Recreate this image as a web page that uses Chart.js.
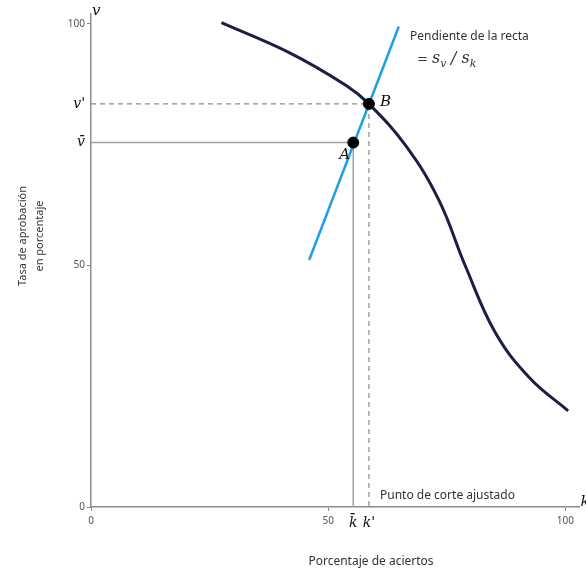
<!DOCTYPE html>
<html lang="es">
<head>
    <meta charset="UTF-8">
    <title>Punto de corte ajustado</title>
    <style>
        body {
            margin: 0;
            background: #fff;
            font-family: 'Noto Sans', sans-serif;
        }
        .chart-box {
            width: 586px;
            height: 570px;
        }
    </style>
</head>
<body>
    <div class="chart-box">
        <canvas id="chart"></canvas>
    </div>

    <script src="https://cdn.jsdelivr.net/npm/chart.js"></script>
    <script>
        // curva (porcentaje de aciertos, tasa de aprobación)
        const curveX = [27.5, 41.8, 53.8, 58.6, 66.4, 73.3, 79.0, 85.3, 92.5, 100.6];
        const curveY = [100.2, 94.0, 87.2, 83.4, 74.7, 63.6, 49.7, 36.0, 26.7, 19.9];

        // recta de pendiente s_v / s_k
        const slopeX = [46.0, 64.9];
        const slopeY = [51.1, 99.4];

        // puntos A y B
        const pointA = [55.3, 75.4];
        const pointB = [58.6, 83.4];

        const xTicks = [0, 50, 55.3, 58.6, 100];
        const xTickLabels = ['0', '50', 'k̄', "k'", '100'];
        const yTicks = [0, 50, 75.4, 83.4, 100];
        const yTickLabels = ['0', '50', 'v̄', "v'", '100'];

        const toPts = (xs, ys) => xs.map((x, i) => ({ x: x, y: ys[i] }));
        const isSymbol = label => label === 'k̄' || label === "k'" || label === 'v̄' || label === "v'";

        const numFont = { family: "'Noto Sans', sans-serif", size: 10 };
        const symFont = { family: "'DejaVu Serif', serif", size: 14, style: 'italic' };

        const textPlugin = {
            id: 'textos',
            afterDraw(chart) {
                const c = chart.ctx;
                const xs = chart.scales.x, ys = chart.scales.y;
                const area = chart.chartArea;
                c.save();

                // nombres de los ejes
                c.fillStyle = '#111';
                c.font = "italic 15px 'DejaVu Serif', serif";
                c.textAlign = 'left';
                c.textBaseline = 'alphabetic';
                c.fillText('v', xs.getPixelForValue(0) + 1, area.top + 1);
                c.fillText('k', area.right + 1, area.bottom - 1);

                // letras A y B
                c.fillText('A', xs.getPixelForValue(pointA[0]) - 14, ys.getPixelForValue(pointA[1]) + 16);
                c.fillText('B', xs.getPixelForValue(pointB[0]) + 11, ys.getPixelForValue(pointB[1]) + 2);

                // anotaciones
                c.fillStyle = '#333';
                c.font = "12px 'Noto Sans', sans-serif";
                c.fillText('Pendiente de la recta', 410, 40);
                c.fillText('Punto de corte ajustado', 380, 499);

                let px = 417;
                c.font = "13px 'DejaVu Serif', serif";
                c.fillText('=', px, 63);
                px += c.measureText('= ').width;
                c.font = "italic 16px 'DejaVu Serif', serif";
                c.fillText('s', px, 63);
                px += c.measureText('s').width;
                c.font = "italic 11px 'DejaVu Serif', serif";
                c.fillText('v', px, 67);
                px += c.measureText('v ').width + 1;
                c.font = "italic 16px 'DejaVu Serif', serif";
                c.fillText('/ s', px, 63);
                px += c.measureText('/ s').width;
                c.font = "italic 11px 'DejaVu Serif', serif";
                c.fillText('k', px, 67);

                // título eje x
                c.font = "12px 'Noto Sans', sans-serif";
                c.textAlign = 'center';
                c.fillText('Porcentaje de aciertos', 371, 565);

                // título eje y
                c.save();
                c.translate(26, 236);
                c.rotate(-Math.PI / 2);
                c.font = "11px 'Noto Sans', sans-serif";
                c.fillText('Tasa de aprobación', 0, 0);
                c.fillText('en porcentaje', 0, 17);
                c.restore();

                c.restore();
            }
        };

        const ctx = document.getElementById('chart').getContext('2d');
        const chart = new Chart(ctx, {
            type: 'scatter',
            data: {
                datasets: [
                    {
                        label: 'A B',
                        data: [{ x: pointA[0], y: pointA[1] }, { x: pointB[0], y: pointB[1] }],
                        backgroundColor: '#000',
                        borderColor: '#000',
                        pointRadius: 5.5,
                        order: 0
                    },
                    {
                        label: 'curva',
                        data: toPts(curveX, curveY),
                        showLine: true,
                        borderColor: '#1b1f45',
                        borderWidth: 3,
                        pointRadius: 0,
                        tension: 0.4,
                        order: 1
                    },
                    {
                        label: 'recta',
                        data: toPts(slopeX, slopeY),
                        showLine: true,
                        borderColor: '#1e9fe8',
                        borderWidth: 2.5,
                        pointRadius: 0,
                        order: 2
                    },
                    {
                        label: 'ajustado',
                        data: [{ x: 0, y: pointB[1] }, { x: pointB[0], y: pointB[1] }, { x: pointB[0], y: 0 }],
                        showLine: true,
                        borderColor: '#8a8a8a',
                        borderWidth: 1.2,
                        borderDash: [5, 4],
                        pointRadius: 0,
                        order: 3
                    },
                    {
                        label: 'original',
                        data: [{ x: 0, y: pointA[1] }, { x: pointA[0], y: pointA[1] }, { x: pointA[0], y: 0 }],
                        showLine: true,
                        borderColor: '#a0a0a0',
                        borderWidth: 1.5,
                        pointRadius: 0,
                        order: 4
                    }
                ]
            },
            options: {
                responsive: true,
                maintainAspectRatio: false,
                animation: false,
                layout: { padding: { left: 0, right: 5, top: 14, bottom: 0 } },
                plugins: {
                    legend: { display: false },
                    tooltip: { enabled: false }
                },
                scales: {
                    x: {
                        type: 'linear',
                        min: 0,
                        max: 103,
                        afterBuildTicks: scale => { scale.ticks = xTicks.map(v => ({ value: v })); },
                        afterFit: scale => { scale.height = 63; },
                        border: { color: '#8c8c8c', width: 1.5 },
                        grid: {
                            drawOnChartArea: false,
                            tickLength: 4,
                            tickColor: c => isSymbol(xTickLabels[c.index]) ? 'rgba(0,0,0,0)' : '#8c8c8c'
                        },
                        ticks: {
                            autoSkip: false,
                            maxRotation: 0,
                            padding: 4,
                            callback: (v, i) => xTickLabels[i],
                            font: c => isSymbol(xTickLabels[c.index]) ? symFont : numFont,
                            color: c => isSymbol(xTickLabels[c.index]) ? '#111' : '#555'
                        }
                    },
                    y: {
                        type: 'linear',
                        min: 0,
                        max: 102,
                        afterBuildTicks: scale => { scale.ticks = yTicks.map(v => ({ value: v })); },
                        afterFit: scale => { scale.width = 91; },
                        border: { color: '#8c8c8c', width: 1.5 },
                        grid: {
                            drawOnChartArea: false,
                            tickLength: 4,
                            tickColor: c => isSymbol(yTickLabels[c.index]) ? 'rgba(0,0,0,0)' : '#8c8c8c'
                        },
                        ticks: {
                            autoSkip: false,
                            padding: 2,
                            callback: (v, i) => yTickLabels[i],
                            font: c => isSymbol(yTickLabels[c.index]) ? symFont : numFont,
                            color: c => isSymbol(yTickLabels[c.index]) ? '#111' : '#555'
                        }
                    }
                }
            },
            plugins: [textPlugin]
        });
    </script>
</body>
</html>
